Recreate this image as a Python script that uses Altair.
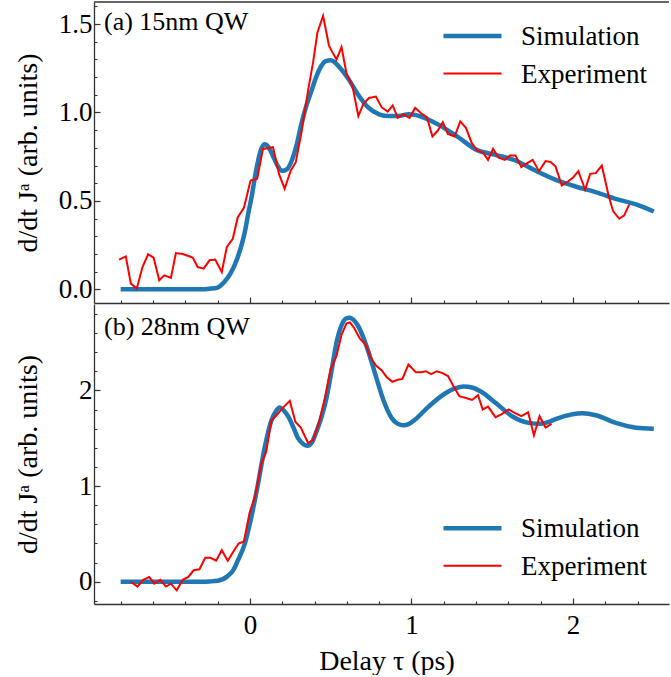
import altair as alt
import pandas as pd

# ---------------- data: panel (a) 15nm QW ----------------
sim_a_t = [-0.80, -0.60, -0.40, -0.30, -0.25, -0.20, -0.16, -0.12, -0.08, -0.055, -0.03, -0.01,
           0.01, 0.04, 0.065, 0.09, 0.11, 0.14, 0.17, 0.20, 0.23, 0.26, 0.29, 0.32, 0.35, 0.38,
           0.41, 0.44, 0.47, 0.50, 0.53, 0.56, 0.61, 0.67, 0.73, 0.80, 0.86, 0.92, 0.98, 1.03,
           1.08, 1.17, 1.29, 1.40, 1.52, 1.64, 1.77, 1.89, 2.02, 2.14, 2.27, 2.39, 2.50]
sim_a_v = [0.0, 0.0, 0.0, 0.0, 0.003, 0.01, 0.04, 0.09, 0.17, 0.24, 0.33, 0.43,
           0.52, 0.68, 0.78, 0.82, 0.81, 0.76, 0.70, 0.67, 0.68, 0.73, 0.82, 0.94, 1.04, 1.12,
           1.20, 1.26, 1.29, 1.295, 1.28, 1.25, 1.19, 1.10, 1.03, 0.99, 0.98, 0.98, 0.99, 0.985,
           0.97, 0.93, 0.86, 0.79, 0.76, 0.73, 0.67, 0.62, 0.58, 0.55, 0.51, 0.48, 0.44]

exp_a_t = [-0.81, -0.768, -0.737, -0.70, -0.665, -0.63, -0.596, -0.561, -0.53, -0.489, -0.458,
           -0.416, -0.385, -0.354, -0.323, -0.286, -0.25, -0.215, -0.174, -0.143, -0.106, -0.075,
           -0.037, 0.004, 0.045, 0.081, 0.143, 0.18, 0.215, 0.253, 0.284, 0.319, 0.36, 0.391,
           0.418, 0.453, 0.489, 0.505, 0.536, 0.567, 0.598, 0.634, 0.671, 0.702, 0.737, 0.78,
           0.815, 0.853, 0.884, 0.915, 0.95, 0.988, 1.023, 1.06, 1.095, 1.13, 1.163, 1.194,
           1.225, 1.267, 1.302, 1.337, 1.371, 1.406, 1.441, 1.474, 1.505, 1.54, 1.578, 1.609,
           1.644, 1.68, 1.716, 1.75, 1.789, 1.83, 1.861, 1.892, 1.93, 1.971, 2.002, 2.033,
           2.075, 2.106, 2.141, 2.178, 2.22, 2.248, 2.286, 2.317, 2.348]
exp_a_v = [0.168, 0.186, 0.032, 0.004, 0.126, 0.198, 0.179, 0.051, 0.079, 0.064, 0.205,
           0.20, 0.19, 0.179, 0.126, 0.117, 0.164, 0.168, 0.098, 0.239, 0.286, 0.408,
           0.461, 0.615, 0.625, 0.794, 0.804, 0.653, 0.569, 0.672, 0.719, 0.888, 1.124, 1.283,
           1.453, 1.547, 1.38, 1.35, 1.30, 1.37, 1.22, 1.152, 0.98, 1.048, 1.082, 1.09,
           1.03, 1.005, 1.04, 0.97, 0.99, 0.97, 1.026, 0.996, 0.974, 0.864, 0.898, 0.945,
           0.879, 0.864, 0.95, 0.913, 0.832, 0.785, 0.775, 0.732, 0.794, 0.744, 0.732, 0.757,
           0.757, 0.691, 0.714, 0.732, 0.668, 0.725, 0.72, 0.694, 0.587, 0.611, 0.634, 0.668,
           0.563, 0.653, 0.657, 0.70, 0.531, 0.442, 0.399, 0.418, 0.48]

# ---------------- data: panel (b) 28nm QW ----------------
sim_b_t = [-0.80, -0.50, -0.30, -0.25, -0.20, -0.137, -0.10, -0.075, -0.033, 0.008, 0.05, 0.091,
           0.132, 0.16, 0.184, 0.21, 0.236, 0.27, 0.298, 0.33, 0.356, 0.385, 0.412, 0.445, 0.474,
           0.505, 0.536, 0.567, 0.595, 0.619, 0.645, 0.671, 0.722, 0.774, 0.826, 0.878, 0.915,
           0.95, 0.985, 1.023, 1.106, 1.21, 1.27, 1.323, 1.375, 1.427, 1.52, 1.623, 1.727, 1.80,
           1.85, 1.892, 1.996, 2.058, 2.141, 2.265, 2.39, 2.50]
sim_b_v = [0.0, 0.0, 0.0, 0.003, 0.01, 0.06, 0.13, 0.22, 0.39, 0.67, 1.02, 1.40,
           1.68, 1.78, 1.82, 1.79, 1.73, 1.61, 1.50, 1.44, 1.42, 1.46, 1.57, 1.73, 1.92,
           2.20, 2.50, 2.68, 2.75, 2.76, 2.73, 2.67, 2.46, 2.18, 1.90, 1.71, 1.65,
           1.635, 1.65, 1.695, 1.83, 1.97, 2.02, 2.04, 2.03, 1.99, 1.87, 1.73, 1.66, 1.65,
           1.67, 1.70, 1.75, 1.76, 1.74, 1.66, 1.61, 1.60]

exp_b_t = [-0.737, -0.696, -0.66, -0.623, -0.592, -0.555, -0.52, -0.489, -0.453, -0.416, -0.381,
           -0.348, -0.312, -0.277, -0.244, -0.209, -0.174, -0.137, -0.106, -0.07, -0.037, -0.002,
           0.033, 0.07, 0.101, 0.132, 0.17, 0.205, 0.247, 0.282, 0.315, 0.36, 0.391, 0.427,
           0.464, 0.499, 0.536, 0.567, 0.598, 0.619, 0.646, 0.681, 0.716, 0.749, 0.78, 0.815,
           0.846, 0.882, 0.915, 0.944, 0.981, 1.027, 1.06, 1.089, 1.122, 1.157, 1.193, 1.226,
           1.261, 1.296, 1.337, 1.375, 1.412, 1.441, 1.474, 1.52, 1.557, 1.602, 1.644, 1.68,
           1.722, 1.758, 1.793, 1.83, 1.867]
exp_b_v = [0.0, -0.05, 0.02, 0.05, -0.02, 0.02, -0.05, -0.02, -0.09, 0.02, 0.05,
           0.12, 0.13, 0.25, 0.25, 0.22, 0.33, 0.22, 0.305, 0.40, 0.42, 0.72,
           0.90, 1.23, 1.36, 1.68, 1.75, 1.82, 1.89, 1.67, 1.61, 1.45, 1.48, 1.66,
           1.92, 2.22, 2.36, 2.58, 2.70, 2.71, 2.65, 2.54, 2.48, 2.34, 2.26, 2.21,
           2.14, 2.09, 2.11, 2.12, 2.27, 2.19, 2.19, 2.20, 2.17, 2.20, 2.18, 2.15,
           2.04, 1.94, 1.92, 1.90, 1.95, 1.80, 1.83, 1.72, 1.75, 1.80, 1.76, 1.73,
           1.77, 1.53, 1.73, 1.61, 1.65]

legend_labels = ["Simulation", "Experiment"]
panel_labels = ["(a) 15nm QW", "(b) 28nm QW"]
x_title = "Delay τ (ps)"
y_title = "d/dt Jᵃ (arb. units)"

# tick positions
x_major = [0, 1, 2]
x_minor = [round(-0.8 + 0.2 * i, 1) for i in range(18)]
ya_major = [0.0, 0.5, 1.0, 1.5]
ya_minor = [round(0.1 * i, 1) for i in range(17)]
yb_major = [0, 1, 2]
yb_minor = [round(-0.2 + 0.2 * i, 1) for i in range(16)]

# ---------------- styling ----------------
FONT = "Liberation Serif"
FS = 27
FS_TITLE = 28
W = 575
H_A = 301
H_B = 300
SIM_COLOR = "#1f77b4"
EXP_COLOR = "#ff0000"
AX = "#333333"
XDOM = [-0.965, 2.594]
YDOM_A = [-0.0775, 1.625]
YDOM_B = [-0.2325, 2.9025]

dummy = pd.DataFrame({"k": [0]})


def inward(n):
    return {"condition": {"test": "true", "value": -n}, "value": -n}


def x_axis_major(labels):
    kw = dict(values=x_major, grid=False, domain=True, domainColor=AX, domainWidth=1.3,
              tickColor=AX, tickWidth=1.2, tickSize=inward(6), orient="bottom")
    if labels:
        kw.update(format="d", labelFont=FONT, labelFontSize=FS, labelColor="black",
                  labelPadding=14, labelFlush=False,
                  title=x_title, titleFont=FONT, titleFontSize=FS_TITLE,
                  titleFontWeight="normal", titleColor="black", titleX=292.5, titleY=65,
                  titleBaseline="alphabetic", titleAlign="center")
    else:
        kw.update(labels=False, title=None)
    return alt.Axis(**kw)


def minor_axis(values, orient):
    return alt.Axis(values=values, grid=False, domain=False, labels=False, title=None,
                    tickColor=AX, tickWidth=1.1, tickSize=inward(3), orient=orient)


def y_axis_major(values, fmt, h):
    return alt.Axis(values=values, grid=False, domain=True, domainColor=AX, domainWidth=1.3,
                    tickColor=AX, tickWidth=1.2, tickSize=inward(6), orient="left",
                    format=fmt, labelFont=FONT, labelFontSize=FS, labelColor="black",
                    labelPadding=8, labelFlush=False, labelBaseline="middle",
                    title=y_title, titleFont=FONT, titleFontSize=FS_TITLE,
                    titleFontWeight="normal", titleColor="black", titleX=-65.5, titleY=h / 2,
                    titleAngle=270, titleBaseline="middle", titleAlign="center")


def panel(sim_t, sim_v, exp_t, exp_v, ydom, ymaj, ymin, yfmt, h, label, label_y,
          leg_y, show_xlabels, top_border):
    sim = pd.DataFrame({"t": sim_t, "v": sim_v})
    exp = pd.DataFrame({"t": exp_t, "v": exp_v})
    xs = alt.Scale(domain=XDOM, nice=False, zero=False)
    ys = alt.Scale(domain=ydom, nice=False, zero=False)

    sim_line = alt.Chart(sim).mark_line(color=SIM_COLOR, strokeWidth=4.5,
                                        interpolate="monotone").encode(
        x=alt.X("t:Q", scale=xs, axis=x_axis_major(show_xlabels)),
        y=alt.Y("v:Q", scale=ys, axis=y_axis_major(ymaj, yfmt, h)))
    minor = alt.Chart(exp).mark_line(opacity=0).encode(
        x=alt.X("t:Q", scale=xs, axis=minor_axis(x_minor, "bottom")),
        y=alt.Y("v:Q", scale=ys, axis=minor_axis(ymin, "left")))
    exp_line = alt.Chart(exp).mark_line(color=EXP_COLOR, strokeWidth=2).encode(
        x=alt.X("t:Q", scale=xs, axis=None), y=alt.Y("v:Q", scale=ys, axis=None))

    layers = [sim_line, minor, exp_line]
    layers.append(alt.Chart(dummy).mark_text(font=FONT, fontSize=FS - 1, align="left",
                                             baseline="alphabetic", color="black").encode(
        x=alt.value(10), y=alt.value(label_y), text=alt.value(label)))
    # legend
    for i, (name, col, sw) in enumerate(zip(legend_labels, [SIM_COLOR, EXP_COLOR], [4.5, 2])):
        yy = leg_y + 37.5 * i
        layers.append(alt.Chart(dummy).mark_rule(color=col, strokeWidth=sw).encode(
            x=alt.value(349.5), x2=alt.value(407.5), y=alt.value(yy)))
        layers.append(alt.Chart(dummy).mark_text(font=FONT, fontSize=FS, align="left",
                                                 baseline="alphabetic", color="black").encode(
            x=alt.value(427), y=alt.value(yy + 9), text=alt.value(name)))
    if top_border:
        layers.append(alt.Chart(dummy).mark_rule(color=AX, strokeWidth=1.3).encode(
            x=alt.value(0), x2=alt.value(W), y=alt.value(0)))
    return alt.layer(*layers).resolve_axis(x="independent", y="independent").properties(
        width=W, height=h)


top = panel(sim_a_t, sim_a_v, exp_a_t, exp_a_v, YDOM_A, ya_major, ya_minor, ".1f", H_A,
            panel_labels[0], 28, 34, False, True)
bottom = panel(sim_b_t, sim_b_v, exp_b_t, exp_b_v, YDOM_B, yb_major, yb_minor, "d", H_B,
               panel_labels[1], 31, 224.3, True, False)

chart = alt.vconcat(top, bottom, spacing=0).configure_view(stroke=None).properties(
    padding={"left": 14, "top": 1, "right": 0, "bottom": 0}
)

chart.save("out.html", embed_options={"renderer": "svg", "actions": False})
